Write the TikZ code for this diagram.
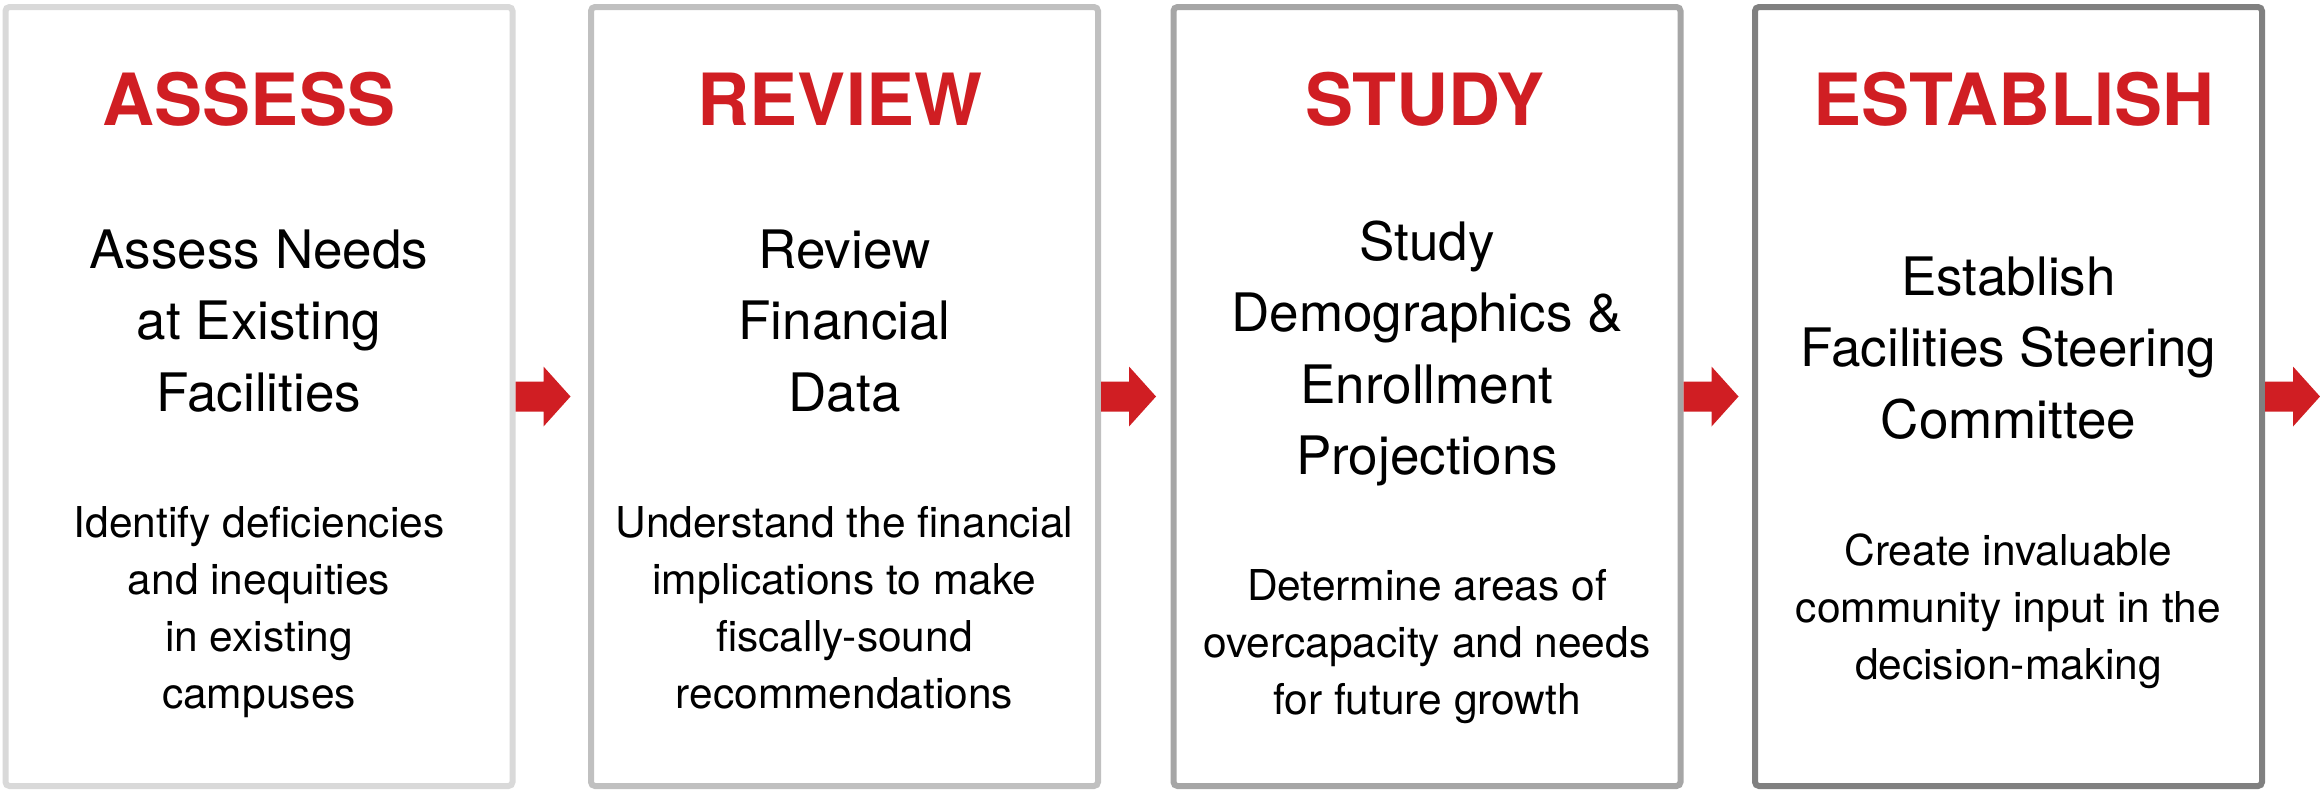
\documentclass[tikz,border=0pt]{standalone}
\usepackage{fontspec}
\setmainfont{TeX Gyre Heros}
\definecolor{stepred}{RGB}{208,30,35}
\definecolor{gA}{RGB}{217,217,217}
\definecolor{gB}{RGB}{192,192,192}
\definecolor{gC}{RGB}{166,166,166}
\definecolor{gD}{RGB}{128,128,128}
\tikzset{
  stepbox/.style={draw, line width=3pt, rounded corners=2pt, fill=white,
    minimum width=253.5pt, minimum height=389.5pt, inner sep=0pt},
  titletext/.style={anchor=base, inner sep=0pt, text=stepred,
    font=\fontsize{36}{40}\selectfont\bfseries},
  bodytext/.style={anchor=base, inner sep=0pt, align=center,
    font=\fontsize{26.5}{35.75}\selectfont},
  smalltext/.style={anchor=base, inner sep=0pt, align=center,
    font=\fontsize{21.25}{28.5}\selectfont},
  blockarrow/.style={fill=stepred}
}
\begin{document}
\begin{tikzpicture}[x=0.5pt,y=-0.5pt]
\useasboundingbox[fill=white] (0,0) rectangle (2320,789);

\node[stepbox, draw=gA] (b1) at (259,396.5) {};
\node[stepbox, draw=gB] (b2) at (844.5,396.5) {};
\node[stepbox, draw=gC] (b3) at (1427,396.5) {};
\node[stepbox, draw=gD] (b4) at (2008.5,396.5) {};

\node[titletext] (t1) at (249,125) {ASSESS};
\node[titletext] (t2) at (840,125) {REVIEW};
\node[titletext] (t3) at (1425,125) {STUDY};
\node[titletext] (t4) at (2014,125) {ESTABLISH};

% anchor=base of a multi-line node lies on its last line
\node[bodytext] (m1) at (259,411) {Assess Needs\\at Existing\\Facilities};
\node[bodytext] (m2) at (844.5,411) {Review\\Financial\\Data};
\node[bodytext] (m3) at (1427,474.5) {Study\\Demographics \&\\Enrollment\\Projections};
\node[bodytext] (m4) at (2008.5,438) {Establish\\Facilities Steering\\Committee};

\node[smalltext] (s1) at (259,708) {Identify deficiencies\\and inequities\\in existing\\campuses};
\node[smalltext] (s2) at (844.5,708) {Understand the financial\\implications to make\\fiscally-sound\\recommendations};
\node[smalltext] (s3) at (1427,714) {Determine areas of\\overcapacity and needs\\for future growth};
\node[smalltext] (s4) at (2008.5,679) {Create invaluable\\community input in the\\decision-making};

\foreach \b in {b1,b2,b3,b4}{
  \fill[blockarrow] (\b.east) ++(0,-15) -- ++(28,0) -- ++(0,-15) -- ++(27,30)
    -- ++(-27,30) -- ++(0,-15) -- ++(-28,0) -- cycle;
}
\end{tikzpicture}
\end{document}
